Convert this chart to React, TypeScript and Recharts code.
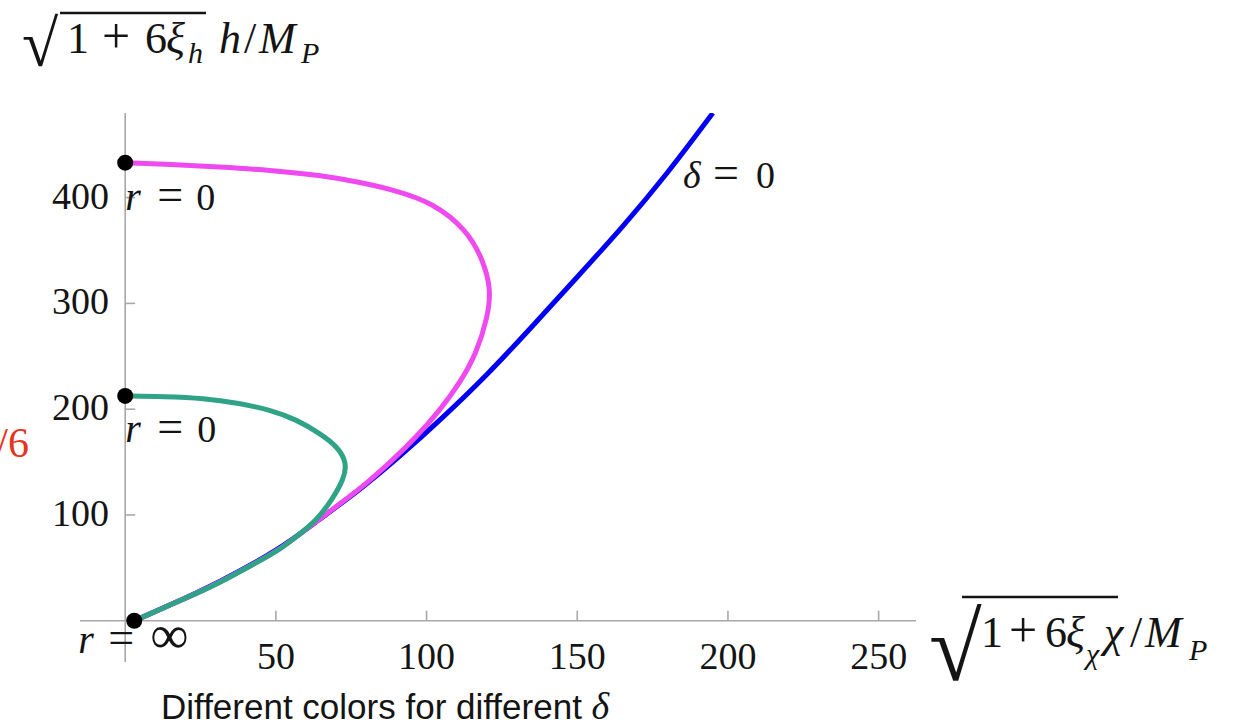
import React from 'react';
import { LineChart, Line, XAxis, YAxis, ReferenceLine, ReferenceDot } from 'recharts';

// ---- data ----
const xTicks = [50, 100, 150, 200, 250];
const yTicks = [100, 200, 300, 400];

// delta = 0 (blue)
const blueCurve = [
  { x: 3, y: 0 }, { x: 15, y: 15 }, { x: 31, y: 36 }, { x: 51, y: 67 }, { x: 64, y: 95 },
  { x: 78, y: 124 }, { x: 91, y: 155 }, { x: 105, y: 191 }, { x: 120, y: 232 }, { x: 135, y: 278 },
  { x: 150, y: 325 }, { x: 165, y: 372 }, { x: 180, y: 423 }, { x: 195, y: 480 },
];

// magenta branch
const magentaCurve = [
  { x: 0, y: 433 }, { x: 15, y: 431.5 }, { x: 31, y: 429 }, { x: 48, y: 426 }, { x: 65, y: 421 },
  { x: 77, y: 415 }, { x: 89, y: 407.5 }, { x: 102.3, y: 395 }, { x: 113.3, y: 369.5 }, { x: 118.8, y: 341 },
  { x: 121.4, y: 313 }, { x: 120.3, y: 287.5 }, { x: 116.6, y: 253 }, { x: 111.1, y: 225 }, { x: 104.4, y: 199 },
  { x: 96.7, y: 174 }, { x: 89, y: 152.5 }, { x: 80, y: 129.5 }, { x: 71, y: 110 }, { x: 64, y: 95 },
  { x: 57, y: 80 }, { x: 51, y: 67 }, { x: 41, y: 51 }, { x: 31, y: 36 }, { x: 23, y: 25 },
  { x: 15, y: 15 }, { x: 3, y: 0 },
];

// green branch
const greenCurve = [
  { x: 0, y: 212.5 }, { x: 13, y: 212 }, { x: 26, y: 210.5 }, { x: 38, y: 205.5 }, { x: 48, y: 199.5 },
  { x: 57, y: 190 }, { x: 64.6, y: 177 }, { x: 70.5, y: 164.5 }, { x: 73.6, y: 149 }, { x: 72.5, y: 134 },
  { x: 69, y: 116 }, { x: 63.6, y: 95 }, { x: 57, y: 80 }, { x: 51.3, y: 67 }, { x: 41, y: 51 },
  { x: 31.4, y: 36 }, { x: 23, y: 25 }, { x: 15, y: 15 }, { x: 3, y: 0 },
];

// endpoints
const endpointX = [0, 0, 3];
const endpointY = [433, 212.5, 0];
const endpointLabel = ['0', '0', '∞'];

// ---- styles ----
const SERIF = "'Liberation Serif', 'Times New Roman', serif";
const SANS = "'Liberation Sans', Arial, sans-serif";
const AXIS = '#a8a8a8';
const TXT = '#141414';
const labelOffsets = [
  { dx: 0, dy: 47, eq: 32, val: 71 },
  { dx: 0, dy: 46, eq: 32, val: 72 },
  { dx: -56, dy: 32, eq: -26, val: 16 },
];

const XTick = (props: any) => {
  const { x, y, payload } = props;
  return (
    <text x={x} y={y + 7} textAnchor="middle" fontFamily={SERIF} fontSize={38} fill={TXT}>
      {payload.value}
    </text>
  );
};

const YTick = (props: any) => {
  const { x, y, payload } = props;
  return (
    <text x={x + 29} y={y + 11} textAnchor="end" fontFamily={SERIF} fontSize={38} fill={TXT}>
      {payload.value}
    </text>
  );
};

const makeDotShape = (i: number) => (p: any) => {
  const o = labelOffsets[i];
  const bx = p.cx + o.dx;
  const by = p.cy + o.dy;
  const isInf = endpointLabel[i] === '∞';
  return (
    <g>
      <text fontFamily={SERIF} fill={TXT}>
        <tspan x={bx} y={by} fontStyle="italic" fontSize={40}>r</tspan>
        <tspan x={p.cx + o.eq} y={by} fontSize={46}>=</tspan>
        <tspan x={p.cx + o.val} y={by} fontSize={isInf ? 54 : 38}>{endpointLabel[i]}</tspan>
      </text>
      <circle cx={p.cx} cy={p.cy} r={8} fill="#000" />
    </g>
  );
};

export default function App() {
  return (
    <div style={{ position: 'absolute', left: 0, top: 0, width: 1242, height: 728, background: '#fff' }}>
      <LineChart width={1242} height={728} margin={{ top: 113, right: 326, bottom: 36, left: 40 }}>
        <XAxis
          type="number"
          dataKey="x"
          domain={[-15, 262.4]}
          ticks={xTicks}
          interval={0}
          tickSize={0}
          tickMargin={0}
          axisLine={false}
          tickLine={false}
          height={30}
          tick={XTick}
          allowDataOverflow
        />
        <YAxis
          type="number"
          dataKey="y"
          domain={[-39, 480]}
          ticks={yTicks}
          interval={0}
          tickSize={0}
          tickMargin={0}
          axisLine={false}
          tickLine={false}
          width={40}
          tick={YTick}
          allowDataOverflow
        />
        <ReferenceLine x={0} stroke={AXIS} strokeWidth={1.6} />
        <ReferenceLine y={0} stroke={AXIS} strokeWidth={1.6} />
        {xTicks.map((t) => (
          <ReferenceLine key={'xt' + t} segment={[{ x: t, y: 0 }, { x: t, y: 9.5 }]} stroke={AXIS} strokeWidth={1.6} />
        ))}
        {yTicks.map((t) => (
          <ReferenceLine key={'yt' + t} segment={[{ x: 0, y: t }, { x: 3.3, y: t }]} stroke={AXIS} strokeWidth={1.6} />
        ))}
        <Line data={blueCurve} dataKey="y" type="basis" stroke="#0000f5" strokeWidth={5} dot={false} isAnimationActive={false} />
        <Line data={magentaCurve} dataKey="y" type="basis" stroke="#ef4aef" strokeWidth={5} dot={false} isAnimationActive={false} />
        <Line data={greenCurve} dataKey="y" type="basis" stroke="#2ea386" strokeWidth={5} dot={false} isAnimationActive={false} />
        {endpointX.map((x, i) => (
          <ReferenceDot key={'ep' + i} x={x} y={endpointY[i]} r={8} shape={makeDotShape(i)} />
        ))}
      </LineChart>
      <svg width={1242} height={728} style={{ position: 'absolute', left: 0, top: 0, pointerEvents: 'none' }}>
        {/* y-axis title */}
        <text x={22} y={66} fontFamily={SERIF} fontSize={66} fill={TXT}>√</text>
        <line x1={60} y1={13} x2={206} y2={13} stroke={TXT} strokeWidth={2.5} />
        <text fontFamily={SERIF} fill={TXT} fontSize={44}>
          <tspan x={67} y={53}>1</tspan>
          <tspan x={102} y={53} fontSize={50}>+</tspan>
          <tspan x={145} y={53}>6</tspan>
          <tspan x={166} y={53} fontStyle="italic">ξ</tspan>
          <tspan x={188} y={63} fontStyle="italic" fontSize={30}>h</tspan>
          <tspan x={219} y={53} fontStyle="italic">h</tspan>
          <tspan x={244} y={53}>/</tspan>
          <tspan x={259} y={53} fontStyle="italic">M</tspan>
          <tspan x={301} y={63} fontStyle="italic" fontSize={30}>P</tspan>
        </text>
        {/* x-axis title */}
        <text x={929} y={680} fontFamily={SERIF} fontSize={96} fill={TXT}>√</text>
        <line x1={962} y1={597} x2={1118} y2={597} stroke={TXT} strokeWidth={2.5} />
        <text fontFamily={SERIF} fill={TXT} fontSize={44}>
          <tspan x={981} y={647}>1</tspan>
          <tspan x={1009} y={647} fontSize={50}>+</tspan>
          <tspan x={1045} y={647}>6</tspan>
          <tspan x={1066} y={647} fontStyle="italic">ξ</tspan>
          <tspan x={1086} y={664} fontStyle="italic" fontSize={30}>χ</tspan>
          <tspan x={1104} y={647} fontStyle="italic">χ</tspan>
          <tspan x={1130} y={647}>/</tspan>
          <tspan x={1145} y={647} fontStyle="italic">M</tspan>
          <tspan x={1189} y={660} fontStyle="italic" fontSize={30}>P</tspan>
        </text>
        {/* delta = 0 label */}
        <text fontFamily={SERIF} fill={TXT} fontSize={38}>
          <tspan x={683} y={188} fontStyle="italic">δ</tspan>
          <tspan x={713} y={188} fontSize={46}>=</tspan>
          <tspan x={756} y={188}>0</tspan>
        </text>
        {/* red fragment */}
        <text x={29} y={457} textAnchor="end" fontFamily={SERIF} fontSize={42} fill="#e8341c">/6</text>
        {/* caption */}
        <text x={161} y={719} fontFamily={SANS} fontSize={35} fill={TXT}>
          Different colors for different{' '}
          <tspan fontFamily={SERIF} fontStyle="italic" fontSize={38}>δ</tspan>
        </text>
      </svg>
    </div>
  );
}
